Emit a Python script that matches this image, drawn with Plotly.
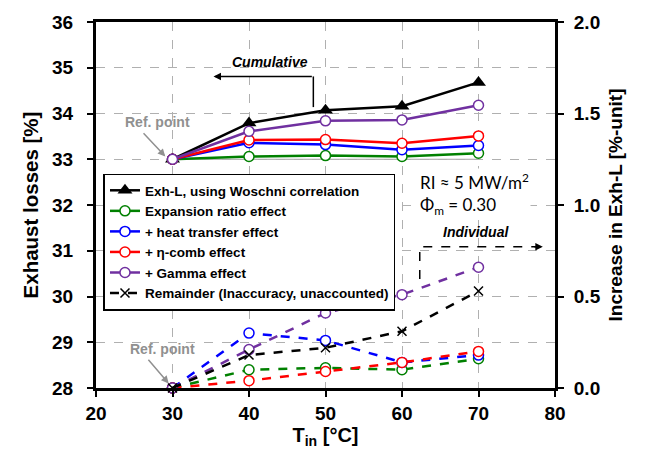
import plotly.graph_objects as go

T_in = [30, 40, 50, 60, 70]
# cumulative (left axis, %)
exh_woschni = [33.0, 33.79, 34.07, 34.16, 34.68]
cum_expansion = [33.0, 33.06, 33.08, 33.06, 33.13]
cum_heat = [33.0, 33.36, 33.32, 33.21, 33.30]
cum_comb = [33.0, 33.42, 33.43, 33.35, 33.51]
cum_gamma = [33.0, 33.61, 33.84, 33.86, 34.18]
# individual (right axis, %-unit)
ind_expansion = [0.0, 0.10, 0.11, 0.10, 0.16]
ind_heat = [0.0, 0.30, 0.26, 0.14, 0.18]
ind_comb = [0.0, 0.04, 0.09, 0.14, 0.20]
ind_gamma = [0.0, 0.21, 0.41, 0.51, 0.66]
remainder = [0.0, 0.18, 0.22, 0.31, 0.53]

names = ["Exh-L, using Woschni correlation", "Expansion ratio effect",
         "+ heat transfer effect", "+ η-comb effect", "+ Gamma effect",
         "Remainder (Inaccuracy, unaccounted)"]

GREEN, BLUE, RED, PURPLE = "#008000", "#0000FF", "#FF0000", "#7030A0"
FONT = "Liberation Sans, Arial, sans-serif"

fig = go.Figure()

circ = lambda c: dict(symbol="circle", size=10, color="white", line=dict(color=c, width=1.5))

# individual dashed (right axis)
for vals, c in [(ind_expansion, GREEN), (ind_heat, BLUE), (ind_comb, RED), (ind_gamma, PURPLE)]:
    fig.add_trace(go.Scatter(x=T_in, y=vals, yaxis="y2", mode="lines+markers",
                             line=dict(color=c, width=2.5, dash="dash"), marker=circ(c),
                             showlegend=False, cliponaxis=False))

# cumulative solid (left axis)
fig.add_trace(go.Scatter(x=T_in, y=exh_woschni, mode="lines+markers", name=names[0],
                         line=dict(color="black", width=2.5),
                         marker=dict(symbol="triangle-up", size=13, color="black"),
                         cliponaxis=False))
for vals, c, n in [(cum_expansion, GREEN, names[1]), (cum_heat, BLUE, names[2]),
                   (cum_comb, RED, names[3]), (cum_gamma, PURPLE, names[4])]:
    fig.add_trace(go.Scatter(x=T_in, y=vals, mode="lines+markers", name=n,
                             line=dict(color=c, width=2.5), marker=circ(c), cliponaxis=False))

fig.add_trace(go.Scatter(x=T_in, y=remainder, yaxis="y2", mode="lines+markers", name=names[5],
                         line=dict(color="black", width=2.5, dash="dash"),
                         marker=dict(symbol="x-thin", size=9, line=dict(color="black", width=1.5)),
                         cliponaxis=False))

tickfont = dict(family=FONT, size=19, color="black", weight=700)

fig.update_layout(
    width=653, height=454,
    margin=dict(l=95.5, r=97.5, t=19, b=66),
    paper_bgcolor="white", plot_bgcolor="white",
    font=dict(family=FONT, color="black"),
    xaxis=dict(range=[20, 80], dtick=10, tick0=20, showline=True, linewidth=3, linecolor="black",
               mirror=True, ticks="outside", ticklen=6, tickwidth=2, tickcolor="black",
               showgrid=True, gridcolor="#b0b0b0", griddash="dash", gridwidth=1,
               tickfont=tickfont, zeroline=False,
               title=dict(text="T<sub>in</sub> [°C]", font=dict(family=FONT, size=20, color="black", weight=700),
                          standoff=4)),
    yaxis=dict(range=[28, 36], dtick=1, showline=True, linewidth=3, linecolor="black",
               ticks="outside", ticklen=6, tickwidth=2, tickcolor="black", ticklabelstandoff=10,
               showgrid=True, gridcolor="#b0b0b0", griddash="dash", gridwidth=1,
               tickfont=tickfont, zeroline=False,
               title=dict(text="Exhaust losses [%]", font=dict(family=FONT, size=20.5, color="black", weight=700),
                          standoff=8)),
    yaxis2=dict(range=[0, 2], dtick=0.5, tickformat=".1f", overlaying="y", side="right",
                showline=True, linewidth=3, linecolor="black", showgrid=False,
                ticks="outside", ticklen=6, tickwidth=2, tickcolor="black", ticklabelstandoff=6,
                tickfont=tickfont, zeroline=False,
                title=dict(text="Increase in Exh-L [%-unit]", font=dict(family=FONT, size=19, color="black", weight=700),
                           standoff=10)),
    legend=dict(x=0.0163, y=0.586, xanchor="left", yanchor="top", bgcolor="white",
                bordercolor="black", borderwidth=1.5, itemwidth=30, tracegroupgap=0,
                font=dict(family=FONT, size=13.5, color="black", weight=700)),
)

# reference line at 33
fig.add_shape(type="line", x0=30, x1=70, y0=33, y1=33, xref="x", yref="y",
              line=dict(color="#a0a0a0", width=1), layer="below")

# Cumulative arrow
fig.add_shape(type="line", x0=48.41, x1=48.41, y0=34.14, y1=34.81, xref="x", yref="y",
              line=dict(color="black", width=1.5))
fig.add_annotation(x=35.36, y=34.81, ax=48.41, ay=34.81, axref="x", ayref="y", xref="x", yref="y",
                   text="", showarrow=True, arrowhead=2, arrowsize=1, arrowwidth=1.5, arrowcolor="black")
fig.add_annotation(x=42.8, y=35.12, xref="x", yref="y", text="<b><i>Cumulative</i></b>",
                   showarrow=False, font=dict(family=FONT, size=14, color="black"))

# Individual arrow (dashed)
fig.add_shape(type="path", path="M 62.32,30.38 L 62.32,31.09 L 77.6,31.09", xref="x", yref="y",
              line=dict(color="black", width=1.5, dash="dash"))
fig.add_annotation(x=78.41, y=31.09, ax=-10, ay=0, xref="x", yref="y",
                   text="", showarrow=True, arrowhead=2, arrowsize=1, arrowwidth=1.5, arrowcolor="black")
fig.add_annotation(x=69.72, y=31.41, xref="x", yref="y", text="<b><i>Individual</i></b>",
                   showarrow=False, font=dict(family=FONT, size=14, color="black"))

# Ref. point labels
GRAY = "#909090"
fig.add_annotation(x=27.99, y=33.82, xref="x", yref="y", text="<b>Ref. point</b>", showarrow=False,
                   font=dict(family=FONT, size=14, color=GRAY))
fig.add_annotation(x=29.06, y=33.06, ax=26.03, ay=33.60, axref="x", ayref="y", xref="x", yref="y",
                   text="", showarrow=True, arrowhead=2, arrowsize=1, arrowwidth=1.5, arrowcolor=GRAY)
fig.add_annotation(x=28.63, y=28.86, xref="x", yref="y", text="<b>Ref. point</b>", showarrow=False,
                   font=dict(family=FONT, size=14, color=GRAY))
fig.add_annotation(x=29.5, y=28.10, ax=26.68, ay=28.65, axref="x", ayref="y", xref="x", yref="y",
                   text="", showarrow=True, arrowhead=2, arrowsize=1, arrowwidth=1.5, arrowcolor=GRAY)

# Conditions text
fig.add_annotation(x=62.06, y=32.24, xref="x", yref="y", xanchor="left", yanchor="middle", align="left",
                   text="RI ≈ 5 MW/m<sup>2</sup><br>Φ<sub>m</sub> = 0.30", showarrow=False,
                   bgcolor="white", font=dict(family="Lato, Open Sans, sans-serif", size=17, color="black"))

fig.write_html("out.html")
